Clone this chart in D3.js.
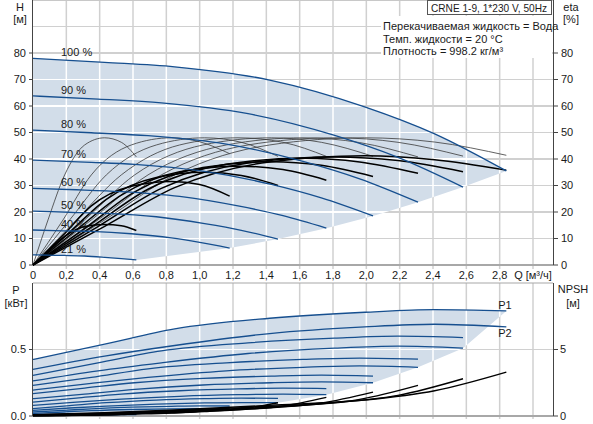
<!DOCTYPE html>
<html>
<head>
<meta charset="utf-8">
<script src="https://cdn.jsdelivr.net/npm/d3@7"></script>
<style>
body { margin: 0; background: #fff; }
svg text { font-family: "Liberation Sans", Arial, sans-serif; font-size: 11px; fill: #1a1a1a; }
</style>
</head>
<body>
<svg id="chart" width="593" height="424"></svg>
<script>
// speed curves, top to bottom
const speeds = ["100 %", "90 %", "80 %", "70 %", "60 %", "50 %", "40 %", "21 %"];

// flow points of each speed curve [м³/ч]
const flow = [
    [0, 0.43, 0.85, 1.42, 1.99, 2.41, 2.84],
    [0, 0.39, 0.77, 1.29, 1.81, 2.19, 2.58],
    [0, 0.35, 0.69, 1.16, 1.62, 1.96, 2.31],
    [0, 0.31, 0.61, 1.02, 1.43, 1.73, 2.04],
    [0, 0.26, 0.53, 0.88, 1.23, 1.50, 1.76],
    [0, 0.22, 0.44, 0.74, 1.03, 1.25, 1.47],
    [0, 0.18, 0.35, 0.59, 0.83, 1.00, 1.18],
    [0, 0.09, 0.19, 0.31, 0.43, 0.53, 0.62]
];

// head H [м]
const head = [
    [78, 76.5, 74.8, 69.8, 59.7, 49.5, 35.5],
    [63.8, 62.6, 61.2, 57.1, 48.9, 40.6, 29.4],
    [50.9, 49.9, 48.8, 45.6, 39.1, 32.5, 23.7],
    [39.6, 38.8, 38.0, 35.4, 30.4, 25.3, 18.5],
    [28.9, 28.4, 27.7, 25.9, 22.3, 18.6, 13.9],
    [20.3, 19.9, 19.5, 18.2, 15.6, 13.1, 9.8],
    [13.2, 12.9, 12.7, 11.8, 10.2, 8.5, 6.4],
    [3.8, 3.7, 3.6, 3.4, 2.9, 2.4, 1.9]
];

// pump efficiency (thin) [%]
const etaPump = [
    [0, 17, 34, 45.3, 48, 46.4, 41.4],
    [0, 17, 34, 45.3, 48, 46.3, 41.1],
    [0, 17, 34, 45.3, 48, 46.2, 40.8],
    [0, 17, 34, 45.3, 48, 46.3, 41],
    [0, 17, 34, 45.3, 48, 46.3, 41],
    [0, 17, 34, 45.3, 48, 46.3, 41],
    [0, 17, 34, 45.3, 48, 46.5, 42],
    [0, 17, 34, 45.3, 48, 46.3, 40.8]
];

// total efficiency (thick) [%]
const etaTotal = [
    [0, 14.6, 29.2, 38.9, 41.2, 39.7, 35.8],
    [0, 14.5, 28.9, 38.5, 40.8, 39.4, 35.2],
    [0, 14.3, 28.6, 38.0, 40.3, 38.9, 34.6],
    [0, 13.8, 27.6, 36.8, 39, 37.6, 33.4],
    [0, 13.2, 26.4, 35.2, 37.3, 36, 32],
    [0, 12.4, 24.8, 33, 35, 33.8, 30],
    [0, 11.2, 22.3, 29.7, 31.5, 30.4, 26],
    [0, 5.4, 10.8, 14.5, 15.3, 14.8, 13]
];

// power P1 / P2 [кВт]
const powerP1 = [
    [0.425, 0.54, 0.655, 0.735, 0.78, 0.80, 0.79],
    [0.306, 0.40, 0.49, 0.55, 0.585, 0.60, 0.59],
    [0.23, 0.29, 0.355, 0.40, 0.425, 0.435, 0.427],
    [0.169, 0.21, 0.25, 0.283, 0.30, 0.307, 0.30],
    [0.105, 0.135, 0.165, 0.19, 0.204, 0.209, 0.206],
    [0.056, 0.078, 0.10, 0.12, 0.13, 0.134, 0.133],
    [0.03, 0.042, 0.054, 0.066, 0.073, 0.076, 0.075],
    [0.01, 0.012, 0.014, 0.016, 0.017, 0.018, 0.018]
];
const powerP2 = [
    [0.35, 0.45, 0.53, 0.62, 0.67, 0.69, 0.67],
    [0.264, 0.34, 0.40, 0.47, 0.51, 0.525, 0.51],
    [0.195, 0.245, 0.29, 0.34, 0.366, 0.377, 0.366],
    [0.13, 0.165, 0.2, 0.233, 0.25, 0.256, 0.25],
    [0.08, 0.105, 0.127, 0.148, 0.16, 0.164, 0.16],
    [0.043, 0.06, 0.075, 0.09, 0.098, 0.101, 0.10],
    [0.02, 0.03, 0.04, 0.049, 0.054, 0.056, 0.055],
    [0.005, 0.006, 0.007, 0.008, 0.009, 0.01, 0.01]
];

// NPSH [м]
const npsh = [
    [0.1, 0.25, 0.45, 0.8, 1.2, 1.9, 3.3],
    [0.08, 0.2, 0.37, 0.65, 1.0, 1.55, 2.8],
    [0.06, 0.16, 0.3, 0.52, 0.8, 1.25, 2.3],
    [0.05, 0.12, 0.23, 0.4, 0.62, 0.98, 1.8],
    [0.04, 0.09, 0.17, 0.3, 0.47, 0.75, 1.4],
    [0.03, 0.06, 0.12, 0.22, 0.34, 0.54, 1.0],
    [0.02, 0.04, 0.08, 0.14, 0.22, 0.35, 0.65],
    [0.01, 0.02, 0.03, 0.05, 0.07, 0.1, 0.2]
];

// ticks
const qTicks = [0, 0.2, 0.4, 0.6, 0.8, 1.0, 1.2, 1.4, 1.6, 1.8, 2.0, 2.2, 2.4, 2.6, 2.8, 3.0];
const qTickLabels = ["0", "0,2", "0,4", "0,6", "0,8", "1,0", "1,2", "1,4", "1,6", "1,8", "2,0", "2,2", "2,4", "2,6", "2,8", "Q [м³/ч]"];
const hTicks = [0, 10, 20, 30, 40, 50, 60, 70, 80];
const hGrid = [10, 20, 30, 40, 50, 60, 70, 80, 90];
const pTicks = [0, 0.5];
const pTickLabels = ["0.0", "0.5"];
const npshTicks = [0, 5];

const title = "CRNE 1-9, 1*230 V, 50Hz";
const infoLines = ["Перекачиваемая жидкость = Вода", "Темп. жидкости = 20 °C", "Плотность = 998.2 кг/м³"];

const svg = d3.select("#chart");

const x = d3.scaleLinear().domain([0, 3.12]).range([33, 553]);
const yH = d3.scaleLinear().domain([0, 100]).range([265, 0]);
const yP = d3.scaleLinear().domain([0, 1]).range([416, 283]);
const yN = d3.scaleLinear().domain([0, 10]).range([416, 283]);

const blue = "#164f8f";
const fillBlue = "#d2dde9";
const gridGray = "#d0d0d0";

function pts(qs, vs) {
    return qs.map((q, i) => [q, vs[i]]);
}

function lineFor(yScale) {
    return d3.line().x(d => x(d[0])).y(d => yScale(d[1])).curve(d3.curveMonotoneX);
}
const lineH = lineFor(yH);
const lineP = lineFor(yP);
const lineN = lineFor(yN);

// region between the top speed curve, the curve ends and the lowest curve
function regionPath(line, topVals, bottomVals) {
    let d = line(pts(flow[0], topVals[0]));
    for (let i = 1; i < speeds.length; i++) {
        let last = flow[i].length - 1;
        d += "L" + x(flow[i][last]) + "," + line.y()([0, bottomVals[i][last]]);
    }
    let back = line(pts(flow[speeds.length - 1], bottomVals[speeds.length - 1]).reverse());
    return d + back.replace(/^M/, "L") + "Z";
}
const topRegion = regionPath(lineH, head, head);
const bottomRegion = regionPath(lineP, powerP1, powerP2);

const defs = svg.append("defs");
defs.append("clipPath").attr("id", "clip-top").append("path").attr("d", topRegion);
defs.append("clipPath").attr("id", "clip-bottom").append("path").attr("d", bottomRegion);

function drawGrid(g, color, hLines, yScale, yTop, yBottom) {
    g.selectAll(".v").data(qTicks.slice(1)).join("line")
        .attr("x1", d => x(d)).attr("x2", d => x(d))
        .attr("y1", yTop).attr("y2", yBottom)
        .attr("stroke", color).attr("stroke-width", 1.5);
    g.selectAll(".h").data(hLines).join("line")
        .attr("x1", x(0)).attr("x2", x(3.12))
        .attr("y1", d => yScale(d)).attr("y2", d => yScale(d))
        .attr("stroke", color).attr("stroke-width", d => hLines.length > 1 && d % 20 === 0 ? 2 : 1.2);
}

// grey grid
drawGrid(svg.append("g"), gridGray, hGrid, yH, 0, 269);
drawGrid(svg.append("g"), gridGray, [0.5], yP, 283, 419);

// operating regions
svg.append("path").attr("d", topRegion).attr("fill", fillBlue);
svg.append("path").attr("d", bottomRegion).attr("fill", fillBlue);

// white grid inside the regions
drawGrid(svg.append("g").attr("clip-path", "url(#clip-top)"), "#fff", hGrid, yH, 0, 265);
drawGrid(svg.append("g").attr("clip-path", "url(#clip-bottom)"), "#fff", [0.5], yP, 283, 416);

// frames
const frame = svg.append("g");
frame.append("line").attr("x1", x(0)).attr("x2", x(3.12)).attr("y1", 265).attr("y2", 265).attr("stroke", "#a8a8a8").attr("stroke-width", 2);
frame.append("line").attr("x1", x(0)).attr("x2", x(3.12)).attr("y1", 416).attr("y2", 416).attr("stroke", "#a8a8a8").attr("stroke-width", 2);
frame.append("line").attr("x1", x(0)).attr("x2", x(3.12)).attr("y1", 283).attr("y2", 283).attr("stroke", "#a8a8a8").attr("stroke-width", 1.2);
frame.append("line").attr("x1", x(0)).attr("x2", x(3.12)).attr("y1", 0.5).attr("y2", 0.5).attr("stroke", "#c8c8c8").attr("stroke-width", 1);
[[0, 265], [283, 416]].forEach(r => {
    frame.append("line").attr("x1", 32.5).attr("x2", 32.5).attr("y1", r[0]).attr("y2", r[1]).attr("stroke", "#444");
    frame.append("line").attr("x1", 553.5).attr("x2", 553.5).attr("y1", r[0]).attr("y2", r[1]).attr("stroke", "#444");
});

// efficiency curves
const curves = svg.append("g").attr("fill", "none");
etaPump.forEach((vals, i) => {
    curves.append("path").attr("d", lineH(pts(flow[i], vals)))
        .attr("stroke", "#3a3a3a").attr("stroke-width", 0.8);
});
etaTotal.forEach((vals, i) => {
    curves.append("path").attr("d", lineH(pts(flow[i], vals)))
        .attr("stroke", "#000").attr("stroke-width", 1.5);
});

// head curves
head.forEach((vals, i) => {
    curves.append("path").attr("d", lineH(pts(flow[i], vals)))
        .attr("stroke", blue).attr("stroke-width", 1.3);
});

// power curves
powerP1.concat(powerP2).forEach((vals, i) => {
    curves.append("path").attr("d", lineP(pts(flow[i % speeds.length], vals)))
        .attr("stroke", blue).attr("stroke-width", 1.3);
});

// NPSH curves
npsh.forEach((vals, i) => {
    curves.append("path").attr("d", lineN(pts(flow[i], vals)))
        .attr("stroke", "#000").attr("stroke-width", 1.4);
});

// speed labels
svg.append("g").selectAll("text").data(speeds).join("text")
    .attr("x", 61)
    .attr("y", (d, i) => yH(head[i][0]) - 2)
    .text(d => d);

// axes: left and right of top chart
const axes = svg.append("g");
axes.selectAll(".lt").data(hTicks).join("line")
    .attr("x1", 29).attr("x2", 33).attr("y1", d => yH(d)).attr("y2", d => yH(d)).attr("stroke", "#444");
axes.selectAll(".ltl").data(hTicks).join("text")
    .attr("x", 26).attr("y", d => yH(d)).attr("dy", "0.35em").attr("text-anchor", "end").text(d => d);
axes.selectAll(".rt").data(hTicks).join("line")
    .attr("x1", 553).attr("x2", 558).attr("y1", d => yH(d)).attr("y2", d => yH(d)).attr("stroke", "#444");
axes.selectAll(".rtl").data(hTicks).join("text")
    .attr("x", 561).attr("y", d => yH(d)).attr("dy", "0.35em").text(d => d);

// x axis labels
axes.selectAll(".xl").data(qTicks).join("text")
    .attr("x", d => x(d)).attr("y", 275).attr("dy", "0.35em").attr("text-anchor", "middle")
    .text((d, i) => qTickLabels[i]);

// bottom chart axes
axes.selectAll(".pt").data(pTicks).join("line")
    .attr("x1", 29).attr("x2", 33).attr("y1", d => yP(d)).attr("y2", d => yP(d)).attr("stroke", "#444");
axes.selectAll(".ptl").data(pTicks).join("text")
    .attr("x", 26).attr("y", d => yP(d)).attr("dy", "0.35em").attr("text-anchor", "end")
    .text((d, i) => pTickLabels[i]);
axes.selectAll(".nt").data(npshTicks).join("line")
    .attr("x1", 553).attr("x2", 558).attr("y1", d => yN(d)).attr("y2", d => yN(d)).attr("stroke", "#444");
axes.selectAll(".ntl").data(npshTicks).join("text")
    .attr("x", 560).attr("y", d => yN(d)).attr("dy", "0.35em").text(d => d);

// axis titles
const titles = svg.append("g").attr("text-anchor", "middle");
titles.append("text").attr("x", 20).attr("y", 11).text("H");
titles.append("text").attr("x", 20).attr("y", 23).text("[м]");
titles.append("text").attr("x", 571).attr("y", 11).text("eta");
titles.append("text").attr("x", 571).attr("y", 23).text("[%]");
titles.append("text").attr("x", 16).attr("y", 294).text("P");
titles.append("text").attr("x", 16).attr("y", 307).text("[кВт]");
titles.append("text").attr("x", 573).attr("y", 293).text("NPSH");
titles.append("text").attr("x", 573).attr("y", 307).text("[м]");
titles.append("text").attr("x", 505).attr("y", 309).text("P1");
titles.append("text").attr("x", 505).attr("y", 337).text("P2");

// title box and fluid info
svg.append("rect").attr("x", 381).attr("y", 16).attr("width", 171).attr("height", 42).attr("fill", "#fff");
svg.append("rect").attr("x", 427.5).attr("y", 0.5).attr("width", 124).attr("height", 14)
    .attr("fill", "#fff").attr("stroke", "#555");
svg.append("text").attr("x", 431).attr("y", 11.5)
    .attr("textLength", 116).attr("lengthAdjust", "spacingAndGlyphs").text(title);
svg.append("g").selectAll("text").data(infoLines).join("text")
    .attr("x", 383).attr("y", (d, i) => 30 + i * 12.5).text(d => d);
</script>
</body>
</html>
